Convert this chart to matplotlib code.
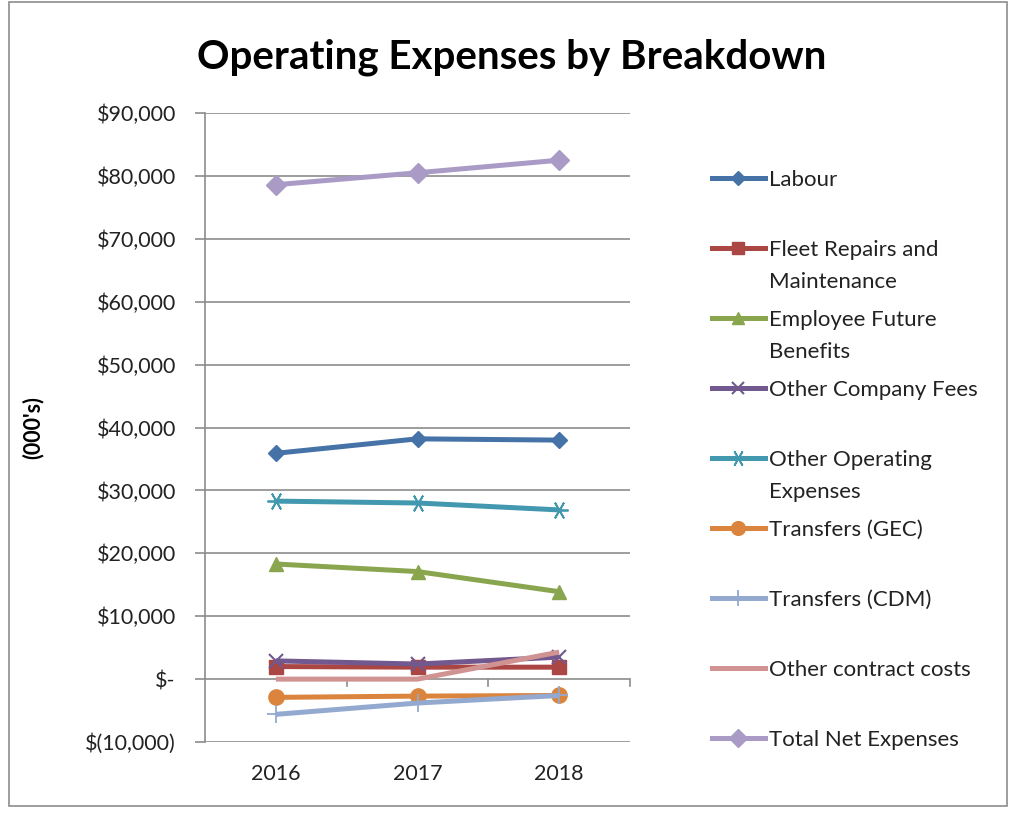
import matplotlib
matplotlib.use("Agg")
import matplotlib.pyplot as plt
from matplotlib.lines import Line2D
from matplotlib.patches import Rectangle
from matplotlib.ticker import FuncFormatter, FixedLocator
import numpy as np

plt.rcParams["font.family"] = ["Lato", "DejaVu Sans"]

years = ["2016", "2017", "2018"]

labour = [35900, 38200, 38000]
fleet_repairs = [2000, 1900, 1900]
employee_benefits = [18300, 17100, 13900]
other_company_fees = [2900, 2400, 3500]
other_operating = [28300, 28000, 26900]
transfers_gec = [-2900, -2700, -2600]
transfers_cdm = [-5600, -3800, -2600]
other_contract = [0, 0, 4300]
total_net = [78600, 80500, 82500]

series_names = [
    "Labour",
    "Fleet Repairs and\nMaintenance",
    "Employee Future\nBenefits",
    "Other Company Fees",
    "Other Operating\nExpenses",
    "Transfers (GEC)",
    "Transfers (CDM)",
    "Other contract costs",
    "Total Net Expenses",
]
series_values = [
    labour, fleet_repairs, employee_benefits, other_company_fees,
    other_operating, transfers_gec, transfers_cdm, other_contract, total_net,
]
series_colors = [
    "#4572A7", "#AA4643", "#89A54E", "#71588F", "#4198AF",
    "#DB843D", "#93A9CF", "#D19392", "#A99BC6",
]
# marker, size, edge width
series_markers = [
    ("D", 8, 1), ("s", 10, 1), ("^", 10, 1), ("x", 10, 1.5), ((6, 2, 90), 13, 1.3),
    ("o", 11, 1), ("+", 13, 1.3), ("None", 0, 0), ("D", 10, 1),
]

fig = plt.figure(figsize=(10.13, 8.13), dpi=100)
fig.add_artist(Rectangle((0.009, 0.008), 0.985, 0.989, transform=fig.transFigure,
                         fill=False, edgecolor="#8c8c8c", linewidth=1.2))

ax = fig.add_axes([0.2024, 0.0873, 0.4195, 0.7737])
x = np.arange(len(years))

for name, vals, col, (mk, ms, mew) in zip(series_names, series_values,
                                           series_colors, series_markers):
    ax.plot(x, vals, color=col, linewidth=3.6, marker=mk, markersize=ms,
            markeredgewidth=mew, markeredgecolor=col, markerfacecolor=col,
            solid_capstyle="butt", zorder=3)

ax.set_xlim(-0.5, 2.5)
ax.set_ylim(-10000, 90000)
ax.yaxis.set_major_locator(FixedLocator(np.arange(-10000, 90001, 10000)))


def money(v, pos):
    if v == 0:
        return "$-"
    if v < 0:
        return "$({:,.0f})".format(-v)
    return "${:,.0f}".format(v)


ax.yaxis.set_major_formatter(FuncFormatter(money))
ax.grid(axis="y", color="#8c8c8c", linewidth=1.2, zorder=0)
ax.set_axisbelow(True)

for side in ["top", "right", "bottom"]:
    ax.spines[side].set_visible(False)
ax.spines["left"].set_color("#8c8c8c")
ax.spines["left"].set_linewidth(1.2)

ax.tick_params(axis="y", length=7, width=1.2, color="#8c8c8c", labelsize=15.5,
               labelcolor="#222222", pad=14)

# category labels sit under the plot, tick marks hang from the zero line
ax.set_xticks(x)
ax.set_xticklabels(years)
ax.tick_params(axis="x", length=0, labelsize=15.5, labelcolor="#222222", pad=16)
for b in [0.5, 1.5, 2.5]:
    ax.plot([b, b], [0, -1100], color="#8c8c8c", linewidth=1.2, zorder=1,
            clip_on=False)

ax.set_ylabel("(000's)", fontsize=15.5, fontweight="bold")
ax.yaxis.set_label_coords(-0.38, 0.5)

fig.text(0.505, 0.93, "Operating Expenses by Breakdown", ha="center", va="center",
         fontsize=29, fontweight="bold", color="black")

# legend on the right, one row every 70 px
row_y = 1 - 178 / 813
for name, col, (mk, ms, mew) in zip(series_names, series_colors, series_markers):
    fig.add_artist(Line2D([712 / 1013, 765 / 1013], [row_y, row_y],
                          transform=fig.transFigure, color=col, linewidth=3.6))
    if mk != "None":
        fig.add_artist(Line2D([738 / 1013], [row_y], transform=fig.transFigure,
                              color=col, marker=mk, markersize=ms * 0.9,
                              markeredgewidth=mew, markeredgecolor=col,
                              markerfacecolor=col, linestyle="none"))
    fig.text(769 / 1013, row_y + 8 / 813, name, ha="left", va="top", fontsize=16,
             color="#222222", linespacing=1.75,
             transform=fig.transFigure)
    row_y -= 70 / 813

fig.savefig("out.png", dpi=100)
